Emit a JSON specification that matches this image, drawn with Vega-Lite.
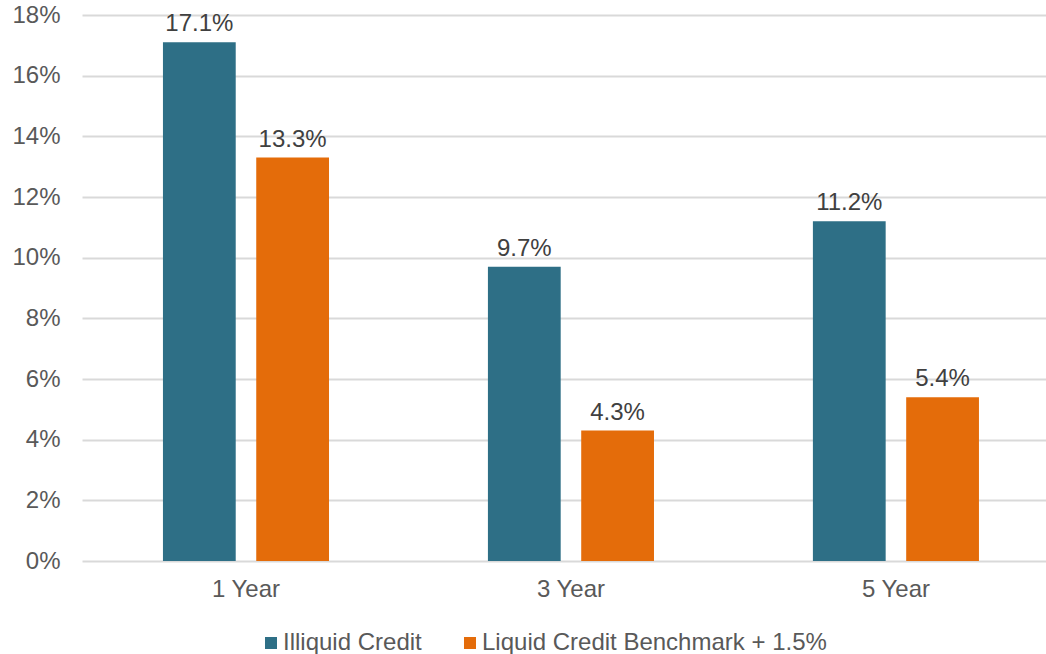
{
  "$schema": "https://vega.github.io/schema/vega-lite/v6.json",
  "autosize": "none",
  "width": 964,
  "height": 546,
  "padding": {"left": 82, "top": 15, "right": 0, "bottom": 93},
  "background": "white",
  "config": {
    "view": {"stroke": null},
    "font": "Liberation Sans"
  },
  "data": {
    "values": [
      {"period": "1 Year", "series": "Illiquid Credit", "value": 0.171},
      {"period": "1 Year", "series": "Liquid Credit Benchmark + 1.5%", "value": 0.133},
      {"period": "3 Year", "series": "Illiquid Credit", "value": 0.097},
      {"period": "3 Year", "series": "Liquid Credit Benchmark + 1.5%", "value": 0.043},
      {"period": "5 Year", "series": "Illiquid Credit", "value": 0.112},
      {"period": "5 Year", "series": "Liquid Credit Benchmark + 1.5%", "value": 0.054}
    ]
  },
  "encoding": {
    "x": {
      "field": "period", "type": "nominal", "sort": null,
      "scale": {"paddingInner": 0.489, "paddingOuter": 0.2277, "align": 0.547},
      "axis": {"title": null, "labelAngle": 0, "domain": false, "ticks": false, "labelFontSize": 24, "labelColor": "#595959", "labelPadding": 16}
    },
    "xOffset": {"field": "series", "type": "nominal", "sort": null, "scale": {"paddingInner": 0.22}},
    "y": {
      "field": "value", "type": "quantitative",
      "scale": {"domain": [0, 0.18]},
      "axis": {"title": null, "values": [0, 0.02, 0.04, 0.06, 0.08, 0.1, 0.12, 0.14, 0.16, 0.18], "format": ".0%", "domain": false, "ticks": false, "gridColor": "#D9D9D9", "gridWidth": 2, "labelFontSize": 24, "labelColor": "#595959", "labelPadding": 22}
    }
  },
  "layer": [
    {
      "mark": {"type": "bar"},
      "encoding": {
        "color": {
          "field": "series", "type": "nominal", "sort": null,
          "scale": {"domain": ["Illiquid Credit", "Liquid Credit Benchmark + 1.5%"], "range": ["#2E6F86", "#E46C0A"]},
          "legend": {"title": null, "orient": "none", "legendX": 177, "legendY": 616, "padding": 0, "direction": "horizontal", "symbolType": "square", "symbolSize": 144, "symbolStrokeWidth": 0, "labelFontSize": 24, "labelColor": "#595959", "labelLimit": 600, "columnPadding": 36, "labelOffset": 0}
        }
      }
    },
    {
      "mark": {"type": "text", "baseline": "alphabetic", "dy": -11, "fontSize": 24, "color": "#404040"},
      "encoding": {
        "text": {"field": "value", "type": "quantitative", "format": ".1%"}
      }
    }
  ]
}
